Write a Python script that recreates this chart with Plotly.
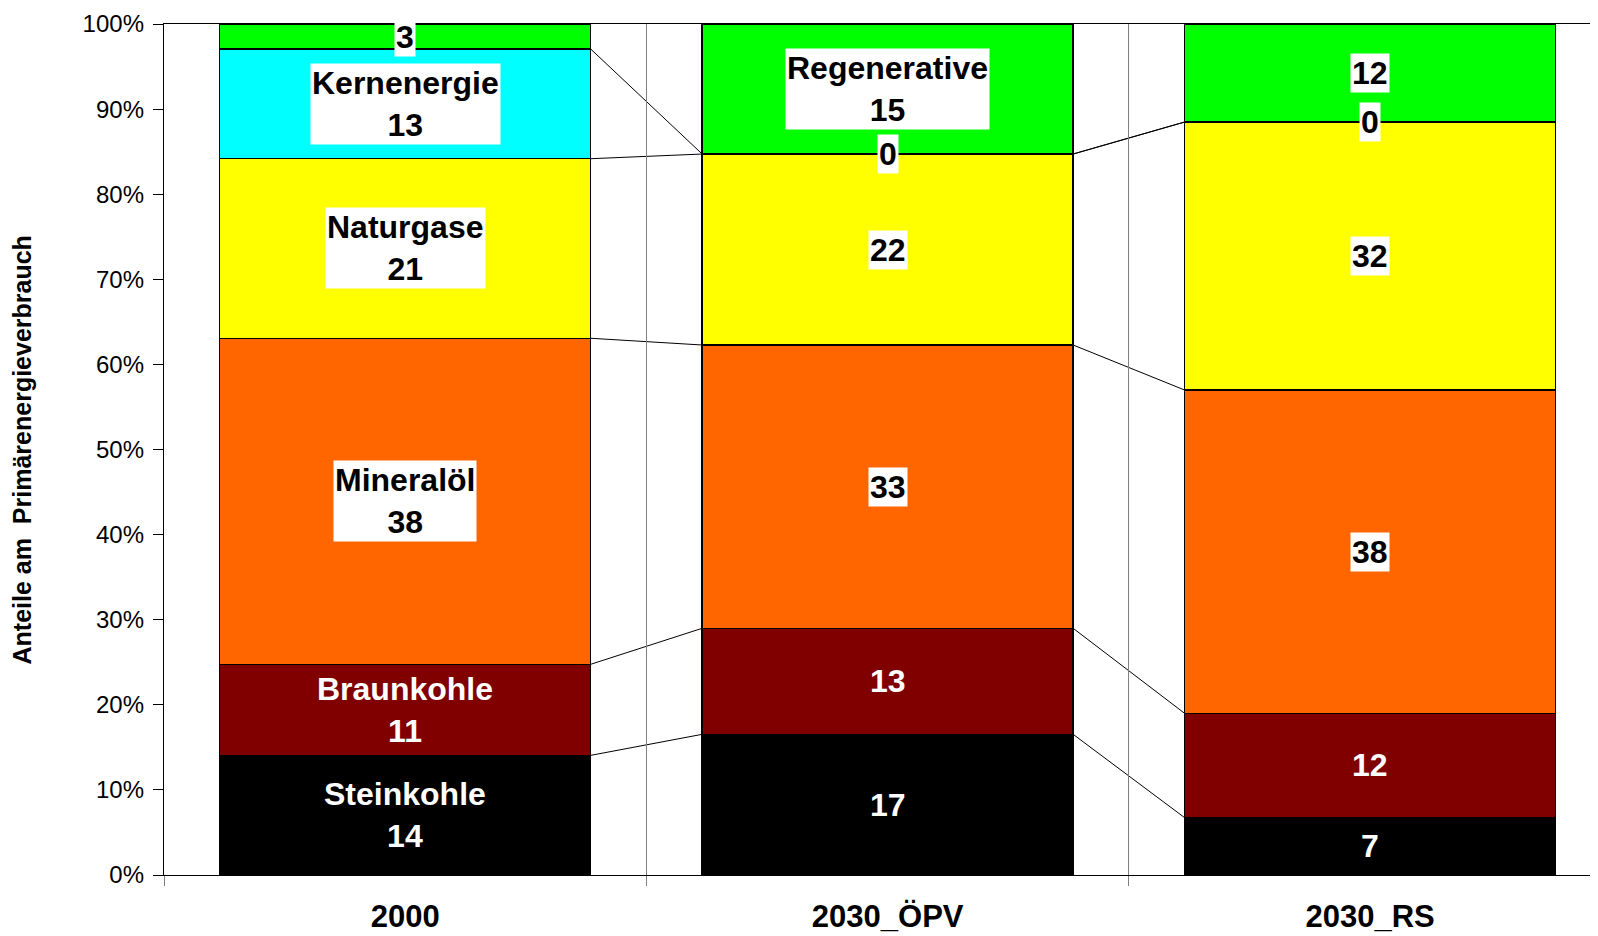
import plotly.graph_objects as go
import numpy as np

# Szenarien (Kategorien der x-Achse)
szenarien = ['2000', '2030_ÖPV', '2030_RS']

# Anteile am Primärenergieverbrauch in %
steinkohle = [14.06, 16.53, 6.74]
braunkohle = [10.70, 12.46, 12.26]
mineraloel = [38.31, 33.29, 37.99]
naturgase = [21.10, 22.44, 31.49]
kernenergie = [12.89, 0.0, 0.0]
regenerative = [2.94, 15.28, 11.52]

# angezeigte (gerundete) Beschriftungen
label_steinkohle = [14, 17, 7]
label_braunkohle = [11, 13, 12]
label_mineraloel = [38, 33, 38]
label_naturgase = [21, 22, 32]
label_kernenergie = [13, 0, 0]
label_regenerative = [3, 15, 12]

# y-Achse
y_ticks = list(range(0, 101, 10))
y_ticktext = [f'{v}%' for v in y_ticks]

traeger = ['Steinkohle', 'Braunkohle', 'Mineralöl', 'Naturgase', 'Kernenergie', 'Regenerative']
werte = [steinkohle, braunkohle, mineraloel, naturgase, kernenergie, regenerative]
labels = [label_steinkohle, label_braunkohle, label_mineraloel, label_naturgase,
          label_kernenergie, label_regenerative]
farben = ['#000000', '#800000', '#FF6600', '#FFFF00', '#00FFFF', '#00FF00']
# in welchem Balken der Name des Energieträgers steht
name_bei = [0, 0, 0, 0, 0, 1]
heller_text = [True, True, False, False, False, False]

FONT = 'Liberation Sans, Arial, sans-serif'
bargap = 0.231
halb = (1 - bargap) / 2

fig = go.Figure()
for name, y, farbe in zip(traeger, werte, farben):
    fig.add_trace(go.Bar(
        x=szenarien, y=y, name=name,
        marker=dict(color=farbe, line=dict(color='black', width=1.4)),
        hoverinfo='x+y+name',
    ))

# kumulierte Anteile für Beschriftung und Verbindungslinien
arr = np.array(werte, dtype=float)
arr = arr / arr.sum(axis=0) * 100
oben = np.cumsum(arr, axis=0)
unten = oben - arr

annotations = []
for k, name in enumerate(traeger):
    for i, kat in enumerate(szenarien):
        mitte = (oben[k, i] + unten[k, i]) / 2
        zahl = str(labels[k][i])
        text = f'{name}<br>{zahl}' if name_bei[k] == i else zahl
        if heller_text[k]:
            annotations.append(dict(
                x=i, y=mitte, xref='x', yref='y', text=text, showarrow=False,
                font=dict(family=FONT, size=32, color='white', weight='bold'),
            ))
        else:
            annotations.append(dict(
                x=i, y=mitte, xref='x', yref='y', text=text, showarrow=False,
                bgcolor='white', borderpad=1,
                font=dict(family=FONT, size=32, color='black', weight='bold'),
            ))

# Reihenverbindungslinien zwischen den Balken
shapes = []
for k in range(len(traeger) - 1):
    for i in range(len(szenarien) - 1):
        shapes.append(dict(
            type='line', xref='x', yref='y', layer='below',
            x0=i + halb, y0=oben[k, i], x1=i + 1 - halb, y1=oben[k, i + 1],
            line=dict(color='black', width=1),
        ))

annotations.append(dict(
    text='Anteile am  Primärenergieverbrauch', textangle=-90,
    xref='paper', yref='paper', x=-0.0985, y=0.5, xanchor='center', yanchor='middle',
    showarrow=False, font=dict(family=FONT, size=25, color='black', weight='bold'),
))

# Seite hat 8px Rand -> Ränder entsprechend kleiner
fig.update_layout(
    barmode='stack', barnorm='percent', bargap=bargap,
    width=1598, height=936,
    margin=dict(l=156, r=0, t=16, b=69),
    plot_bgcolor='white', paper_bgcolor='white',
    showlegend=False,
    annotations=annotations, shapes=shapes,
    font=dict(family=FONT, color='black'),
)
fig.update_xaxes(
    type='category', range=[-0.5, 2.489], tickson='boundaries',
    ticks='outside', ticklen=10, tickcolor='#808080', tickwidth=1,
    showgrid=True, gridcolor='#808080', gridwidth=1,
    showline=True, linecolor='black', linewidth=1.4, mirror=True,
    tickfont=dict(family=FONT, size=31, color='black', weight='bold'),
    ticklabelstandoff=14,
)
fig.update_yaxes(
    range=[0, 100], tickvals=y_ticks, ticktext=y_ticktext,
    ticks='outside', ticklen=10, tickcolor='black', tickwidth=1,
    showgrid=False, zeroline=False,
    showline=True, linecolor='black', linewidth=1.4,
    tickfont=dict(family=FONT, size=24, color='black'),
    ticklabelstandoff=4,
)

fig.write_html('out.html')
